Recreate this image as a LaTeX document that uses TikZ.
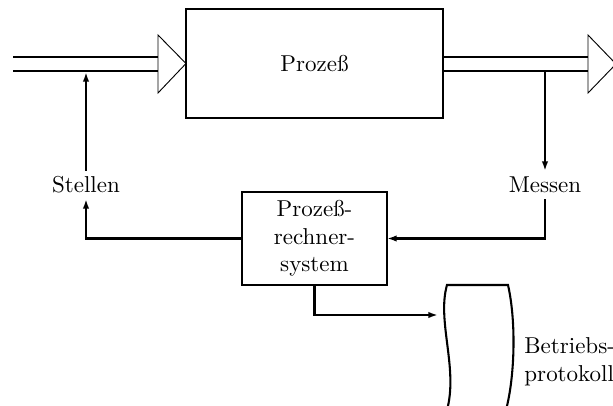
\documentclass[tikz,border=0pt]{standalone}
\usetikzlibrary{arrows.meta}
\begin{document}
\begin{tikzpicture}[x=0.435pt,y=-0.435pt,
  thickline/.style={line width=0.9pt},
  thinline/.style={line width=0.4pt},
  blockbox/.style={draw,thickline,rectangle,inner sep=0pt,outer sep=0pt},
  lbl/.style={inner sep=0pt,outer sep=0pt,minimum height=12.2pt},
  conn/.style={thickline,-{Latex[length=4.2pt,width=2.8pt]}},
  wire/.style={thickline}]
\useasboundingbox (0,0) rectangle (613,406);

% blocks
\node[blockbox,minimum width=111.8pt,minimum height=47.4pt] (proc) at (314.5,63.5) {Prozeß};
\node[blockbox,minimum width=63.1pt,minimum height=40.5pt,align=center] (prs) at (314.5,238.5)
  {Prozeß-\\rechner-\\system};

% labels
\node[lbl] (stellen) at (86,185) {Stellen};
\node[lbl] (messen) at (545,185) {Messen};
\node[inner sep=0pt,anchor=west,align=left] (prot) at (524,362) {Betriebs-\\protokoll};

% material flow in
\coordinate (inA) at (13,57);
\coordinate (inB) at (13,71);
\coordinate (inA2) at (158,57);
\coordinate (inB2) at (158,71);
\draw[thickline] (inA) -- (inA2);
\draw[thickline] (inB) -- (inB2);
\draw[thinline] (158,35) -- (proc.west) -- (158,93) -- cycle;

% material flow out
\coordinate (outA) at (proc.east |- inA);
\coordinate (outB) at (proc.east |- inB);
\draw[thickline] (outA) -- (588,57);
\draw[thickline] (outB) -- (588,71);
\draw[thinline] (588,35) -- (616,64) -- (588,93) -- cycle;

% control loop
\coordinate (actTop) at (86,72);
\coordinate (senTop) at (545,71);
\draw[conn] (stellen.north) -- (actTop);
\draw[conn] (prs.west) -| (stellen.south);
\draw[conn] (senTop) -- (messen.north);
\draw[conn] (messen.south) |- (prs.east);

% log paper
\coordinate (pL) at (447,285);
\coordinate (pR) at (508,285);
\draw[thickline] (448,406) .. controls (457,365) and (437,320) .. (pL) -- (pR)
  .. controls (516,320) and (515,372) .. (507,406);
\coordinate (pIn) at (438,315);
\draw[conn] (prs.south) |- (pIn);
\end{tikzpicture}
\end{document}
